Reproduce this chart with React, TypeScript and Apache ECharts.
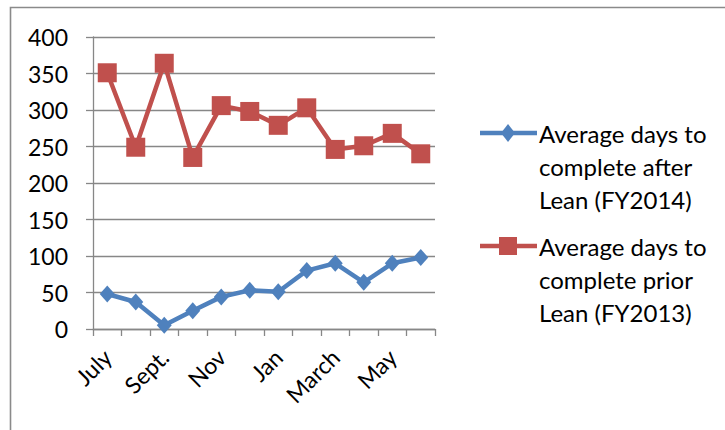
import React, { useEffect, useRef } from "react";
import * as echarts from "echarts";

const categories = ["July", "Aug", "Sept.", "Oct", "Nov", "Dec", "Jan", "Feb", "March", "April", "May", "June"];
const afterLean = [48, 37, 5, 25, 44, 53, 51, 80, 90, 64, 90, 98];
const priorLean = [351, 249, 364, 235, 306, 298, 279, 303, 246, 251, 268, 240];
const seriesNames = [
  "Average days to complete after Lean (FY2014)",
  "Average days to complete prior Lean (FY2013)",
];
const legendLines = [
  ["Average days to", "complete after", "Lean (FY2014)"],
  ["Average days to", "complete prior", "Lean (FY2013)"],
];
const yTicks = [0, 50, 100, 150, 200, 250, 300, 350, 400];

const BLUE = "#4F81BD";
const RED = "#C0504D";
const GRID = "#878787";
const FONT = "Lato, 'Open Sans', sans-serif";

export default function App() {
  const ref = useRef<HTMLDivElement>(null);
  useEffect(() => {
    if (!ref.current) return;
    const chart = echarts.init(ref.current, undefined, { renderer: "svg" });
    const legendText = (lines: string[], x: number, y0: number) =>
      lines.map((t, i) => ({
        type: "text",
        x,
        y: y0 + i * 33,
        style: { text: t, fill: "#000", font: `24px ${FONT}`, textVerticalAlign: "middle", textAlign: "left" },
      }));
    chart.setOption({
      animation: false,
      backgroundColor: "#fff",
      grid: { left: 93, right: 290, top: 37, bottom: 101, containLabel: false },
      xAxis: {
        type: "category",
        data: categories,
        boundaryGap: true,
        axisLine: { show: true, lineStyle: { color: GRID, width: 1.3 } },
        axisTick: { show: true, length: 7, interval: 0, lineStyle: { color: GRID, width: 1.3 } },
        axisLabel: {
          interval: 1,
          rotate: 45,
          margin: 24,
          color: "#000",
          fontSize: 23,
          fontFamily: FONT,
        },
        splitLine: { show: false },
      },
      yAxis: {
        type: "value",
        min: yTicks[0],
        max: yTicks[yTicks.length - 1],
        interval: 50,
        axisLine: { show: true, lineStyle: { color: GRID, width: 1.3 } },
        axisTick: { show: true, length: 7, lineStyle: { color: GRID, width: 1.3 } },
        axisLabel: { margin: 25, color: "#000", fontSize: 23, fontFamily: FONT },
        splitLine: { show: true, lineStyle: { color: GRID, width: 1.3 } },
      },
      series: [
        {
          name: seriesNames[0],
          type: "line",
          data: afterLean,
          symbol: "diamond",
          symbolSize: [15, 17],
          lineStyle: { color: BLUE, width: 4.5 },
          itemStyle: { color: BLUE },
          z: 3,
        },
        {
          name: seriesNames[1],
          type: "line",
          data: priorLean,
          symbol: "rect",
          symbolSize: 19,
          lineStyle: { color: RED, width: 4.5 },
          itemStyle: { color: RED },
          z: 3,
        },
      ],
      graphic: [
        {
          type: "polyline",
          shape: { points: [[10.5, 430], [10.5, 7.5], [725, 7.5]] },
          style: { stroke: "#8a8a8a", lineWidth: 1.6, fill: "none" },
        },
        {
          type: "line",
          shape: { x1: 480, y1: 133, x2: 537, y2: 133 },
          style: { stroke: BLUE, lineWidth: 4.5 },
        },
        {
          type: "polygon",
          shape: { points: [[508, 124], [515, 133], [508, 142], [501, 133]] },
          style: { fill: BLUE },
        },
        ...legendText(legendLines[0], 539, 133),
        {
          type: "line",
          shape: { x1: 480, y1: 246, x2: 537, y2: 246 },
          style: { stroke: RED, lineWidth: 4.5 },
        },
        {
          type: "rect",
          shape: { x: 499, y: 237, width: 18, height: 18 },
          style: { fill: RED },
        },
        ...legendText(legendLines[1], 539, 246),
      ],
    });
    return () => chart.dispose();
  }, []);
  return <div ref={ref} style={{ width: 725, height: 430, position: "absolute", left: 0, top: 0 }} />;
}
